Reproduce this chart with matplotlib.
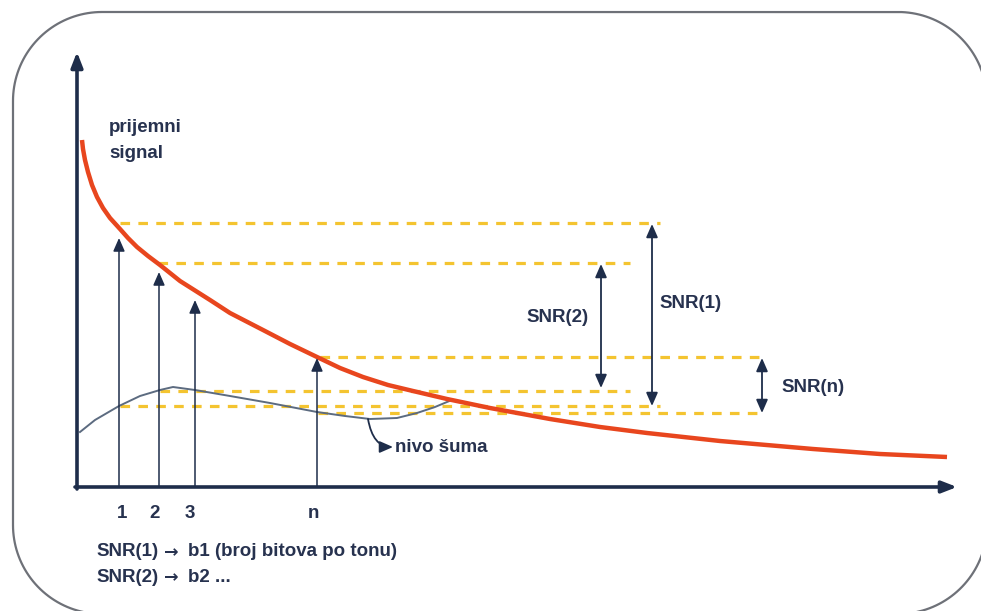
import matplotlib
matplotlib.use("Agg")
import numpy as np
import matplotlib.pyplot as plt
from matplotlib.path import Path
from matplotlib.patches import PathPatch

# ---- data (diagram coordinates, y grows downward like the picture) ----
signal_x = [82, 83, 85, 88, 92, 97, 103, 110, 120, 128, 137, 148, 160, 180, 210, 230, 263, 290, 317, 340, 363, 388, 413, 447, 490, 550, 600, 647, 720, 813, 880, 947]
signal_y = [140, 149, 160, 172, 185, 197, 208, 218, 229, 238, 247, 256, 265, 281, 300, 313, 330, 344, 357, 368, 377, 385, 391, 399, 408, 419, 427, 433, 441, 449, 454, 457]

noise_x = [80, 95, 119, 140, 160, 173, 195, 230, 270, 317, 345, 370, 397, 417, 435, 447, 452]
noise_y = [432, 420, 406, 396, 390, 387, 390, 396, 403, 412, 416, 419, 418, 413, 407, 402, 400]

tone_x = [119, 159, 195, 317]
tone_tip = [238, 272, 300, 358]
tone_labels = ["1", "2", "3", "n"]
tone_label_x = [122, 155, 190, 313]

# dashed reference levels
dash_y = [223, 263, 357, 391, 406, 413]
dash_x0 = [120, 158, 320, 160, 120, 318]
dash_x1 = [660, 630, 765, 630, 660, 765]

snr_names = ["SNR(1)", "SNR(2)", "SNR(n)"]
snr_x = [652, 601, 762]
snr_top = [224, 264, 358]
snr_bot = [406, 388, 413]
snr_label_x = [659, 526, 781]
snr_label_y = [303, 317, 387]

bottom_left = ["SNR(1)", "SNR(2)"]
bottom_right = ["b1 (broj bitova po tonu)", "b2 ..."]

NAVY = "#1e2d4a"
TEXT = "#27324f"
RED = "#e8461e"
DASH = "#f4c430"
FS = 13.5

plt.rcParams['font.family'] = ['Liberation Sans', 'DejaVu Sans']

fig = plt.figure(figsize=(9.81, 6.11), dpi=100)
ax = fig.add_axes([0, 0, 1, 1])
ax.set_xlim(0, 981)
ax.set_ylim(611, 0)
ax.axis("off")

# rounded frame (geometry)
L, T, Rr, B, rad = 13, 12, 987, 614, 89
def arc(cx, cy, a0, a1):
    t = np.radians(np.linspace(a0, a1, 40))
    return np.column_stack([cx + rad * np.cos(t), cy + rad * np.sin(t)])
pts = np.vstack([
    arc(L + rad, T + rad, 180, 270),
    arc(Rr - rad, T + rad, 270, 360),
    arc(Rr - rad, B - rad, 0, 90),
    arc(L + rad, B - rad, 90, 180),
    [[L, T + rad]],
])
ax.add_patch(PathPatch(Path(pts), fill=False, edgecolor="#6e7178", linewidth=1.6, clip_on=False))

# dashed levels
for y, x0, x1 in zip(dash_y, dash_x0, dash_x1):
    ax.plot([x0, x1], [y, y], color=DASH, lw=2.3, linestyle=(0, (3, 2.6)), zorder=2)

# noise curve
ax.plot(noise_x, noise_y, color="#5c6b80", lw=1.4, zorder=3, solid_joinstyle="round")

# signal curve
ax.plot(signal_x, signal_y, color=RED, lw=3.2, solid_capstyle="butt", solid_joinstyle="round", zorder=4)

# axes arrows
ax.annotate("", xy=(77, 52), xytext=(77, 489),
            arrowprops=dict(arrowstyle="-|>,head_length=0.9,head_width=0.35", color=NAVY, lw=2.6, shrinkA=0, shrinkB=0), zorder=5)
ax.annotate("", xy=(957, 487), xytext=(75, 487),
            arrowprops=dict(arrowstyle="-|>,head_length=0.9,head_width=0.35", color=NAVY, lw=2.6, shrinkA=0, shrinkB=0), zorder=5)

# tone arrows
for x, tip, lab, lx in zip(tone_x, tone_tip, tone_labels, tone_label_x):
    ax.annotate("", xy=(x, tip), xytext=(x, 487),
                arrowprops=dict(arrowstyle="-|>,head_length=0.8,head_width=0.35", color=NAVY, lw=1.1,
                                shrinkA=0, shrinkB=0), zorder=5)
    ax.text(lx, 514, lab, ha="center", va="center", fontsize=FS, fontweight="bold", color=TEXT)

# SNR double arrows
for name, x, t, b, lx, ly in zip(snr_names, snr_x, snr_top, snr_bot, snr_label_x, snr_label_y):
    ax.annotate("", xy=(x, t), xytext=(x, b),
                arrowprops=dict(arrowstyle="<|-|>,head_length=0.8,head_width=0.35", color=NAVY, lw=1.3,
                                shrinkA=0, shrinkB=0), zorder=5)
    ax.text(lx, ly, name, ha="left", va="center", fontsize=FS, fontweight="bold", color=TEXT)

# labels
ax.text(109, 128, "prijemni", ha="left", va="center", fontsize=FS, fontweight="bold", color=TEXT)
ax.text(109, 153, "signal", ha="left", va="center", fontsize=FS, fontweight="bold", color=TEXT)

# nivo suma pointer
ax.annotate("", xy=(393, 447), xytext=(368, 419),
            arrowprops=dict(arrowstyle="-|>,head_length=0.8,head_width=0.35", color=NAVY, lw=1.3,
                            connectionstyle="angle3,angleA=-80,angleB=0", shrinkA=0, shrinkB=0), zorder=5)
ax.text(395, 447, "nivo \u0161uma", ha="left", va="center", fontsize=FS, fontweight="bold", color=TEXT)

for i, (a, b) in enumerate(zip(bottom_left, bottom_right)):
    y = 552 + i * 25
    ax.text(96, y, a, ha="left", va="center", fontsize=FS, fontweight="bold", color=TEXT)
    ax.text(164, y, "\u2192", ha="left", va="center", fontsize=FS - 1, fontweight="bold", color=TEXT,
            family=["DejaVu Sans"])
    ax.text(188, y, b, ha="left", va="center", fontsize=FS, fontweight="bold", color=TEXT)

fig.savefig("out.png", dpi=100)
